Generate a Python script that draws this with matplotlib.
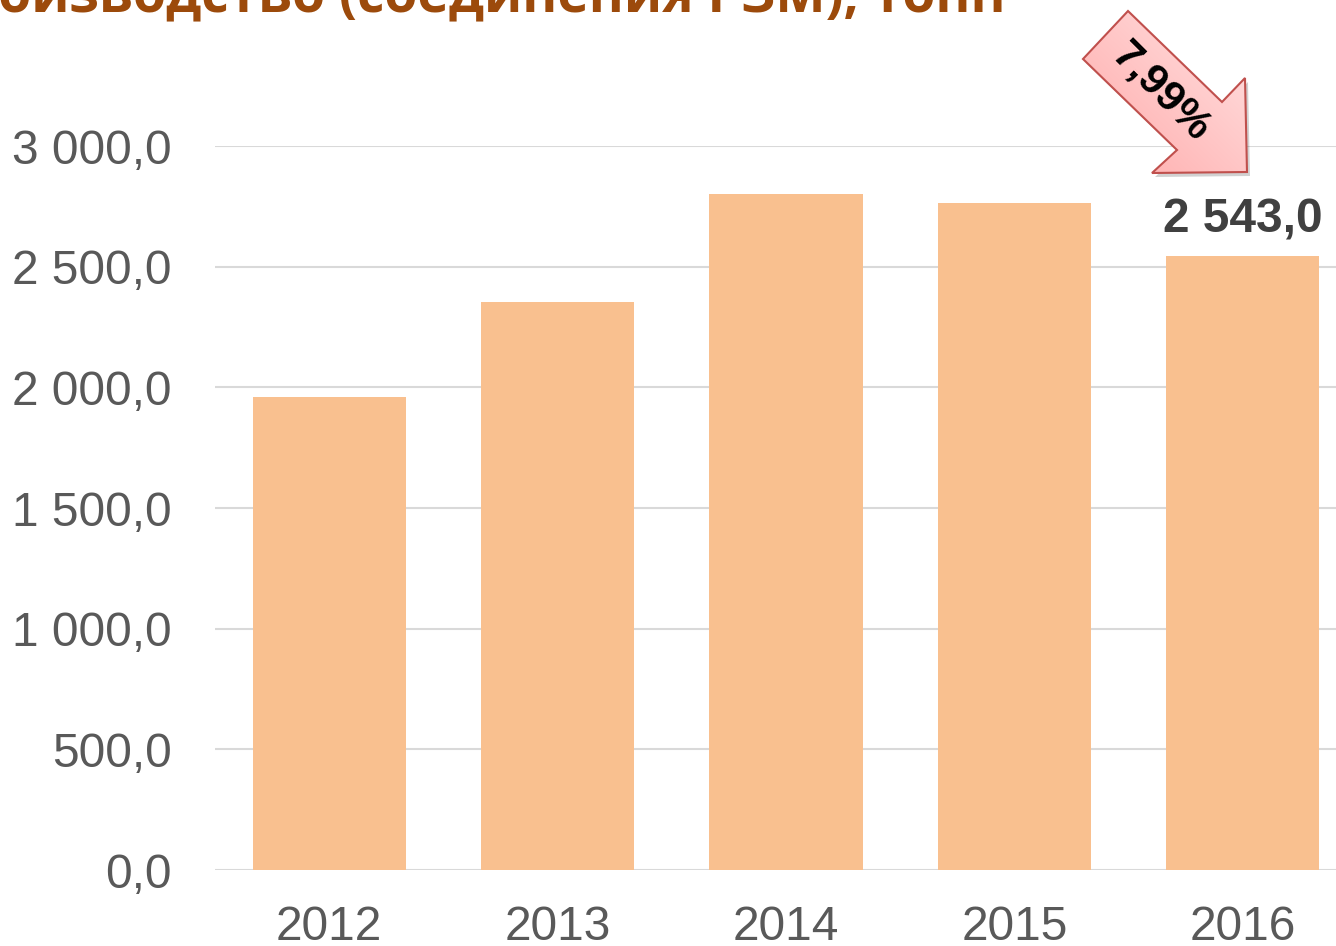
import matplotlib
matplotlib.use("Agg")
import matplotlib.pyplot as plt
import numpy as np
from matplotlib.patches import Polygon
from matplotlib.colors import LinearSegmentedColormap

years = ["2012", "2013", "2014", "2015", "2016"]
values = [1960.0, 2353.0, 2801.0, 2764.0, 2543.0]
yticks = [0, 500, 1000, 1500, 2000, 2500, 3000]
ytick_labels = ["0,0", "500,0", "1 000,0", "1 500,0", "2 000,0", "2 500,0", "3 000,0"]
last_label = "2 543,0"
change_label = "7,99%"
title = "Производство (соединения РЗМ), тонн"

W, H = 1336, 946
fig = plt.figure(figsize=(W / 100, H / 100), dpi=100)
ax = fig.add_axes([215 / W, (H - 870) / H, (1357 - 215) / W, (870 - 146) / H])

bar_color = "#F9C08F"
x = np.arange(len(years))
ax.bar(x, values, width=0.67, color=bar_color, zorder=2)
ax.set_xlim(-0.5, 4.5)
ax.set_ylim(0, 3000)
ax.set_yticks(yticks)
ax.set_yticklabels(ytick_labels)
ax.set_xticks(x)
ax.set_xticklabels(years)
ax.grid(axis="y", color="#D9D9D9", linewidth=1.5, zorder=0)
ax.axhline(0, color="#D9D9D9", linewidth=2, zorder=1)
for s in ax.spines.values():
    s.set_visible(False)
ax.tick_params(axis="both", length=0, labelsize=34.5, labelcolor="#595959")
ax.tick_params(axis="y", pad=31)
ax.tick_params(axis="x", pad=25)
for lab in ax.get_xticklabels() + ax.get_yticklabels():
    lab.set_fontfamily("Liberation Sans")

ax.annotate(last_label, xy=(x[-1], values[-1]), xytext=(0, 10), textcoords="offset points",
            ha="center", va="bottom", fontsize=34.5, fontweight="bold",
            color="#404040", family="Liberation Sans")

# Title (partially clipped at the top, as in the reference)
visible = "оизводство (соединения РЗМ), тонн"
fig.canvas.draw()
r = fig.canvas.get_renderer()
probe = fig.text(0, 0, visible, fontsize=40, fontweight="bold", family="Open Sans")
wpx = probe.get_window_extent(r).width
probe.remove()
tsize = 40 * 1008 / wpx
fig.text(1006 / W, 1 - 12 / H, title, ha="right", va="baseline", fontsize=tsize,
         fontweight="bold", color="#9C4A0B", family="Open Sans")

# Block arrow annotation (pixel coords from top-left -> figure coords)
pts_px = [(1083, 59), (1128, 11), (1222, 102), (1245, 78), (1247, 172), (1152, 173), (1177, 150)]
pts = [(px / W, 1 - py / H) for px, py in pts_px]
shadow = Polygon([(a + 3 / W, b - 4 / H) for a, b in pts], closed=True, transform=fig.transFigure,
                 facecolor="#000000", alpha=0.18, edgecolor="none", zorder=5)
fig.patches.append(shadow)
grad_ax = fig.add_axes([0, 0, 1, 1], zorder=6)
grad_ax.set_xlim(0, 1)
grad_ax.set_ylim(0, 1)
grad_ax.axis("off")
gx, gy = np.meshgrid(np.linspace(0, 1, 200), np.linspace(0, 1, 200))
g = (gx - gy)
cmap = LinearSegmentedColormap.from_list("pk", ["#FFA9A9", "#FFE3E3"])
img = grad_ax.imshow(g, cmap=cmap, extent=[1083 / W, 1247 / W, 1 - 173 / H, 1 - 11 / H],
                     origin="upper", aspect="auto", zorder=1)
poly_fill = Polygon(pts, closed=True, transform=fig.transFigure, facecolor="none", edgecolor="none")
grad_ax.add_patch(poly_fill)
img.set_clip_path(poly_fill)
arrow2 = Polygon(pts, closed=True, transform=fig.transFigure, facecolor="none",
                 edgecolor="#C0504D", linewidth=1.5, zorder=3)
grad_ax.add_patch(arrow2)
grad_ax.text(1161 / W, 1 - 92 / H, change_label, rotation=-45, ha="center", va="center",
             fontsize=31, fontweight="bold", color="#000000", family="Liberation Sans",
             rotation_mode="anchor", zorder=4)

fig.savefig("out.png", dpi=100)
